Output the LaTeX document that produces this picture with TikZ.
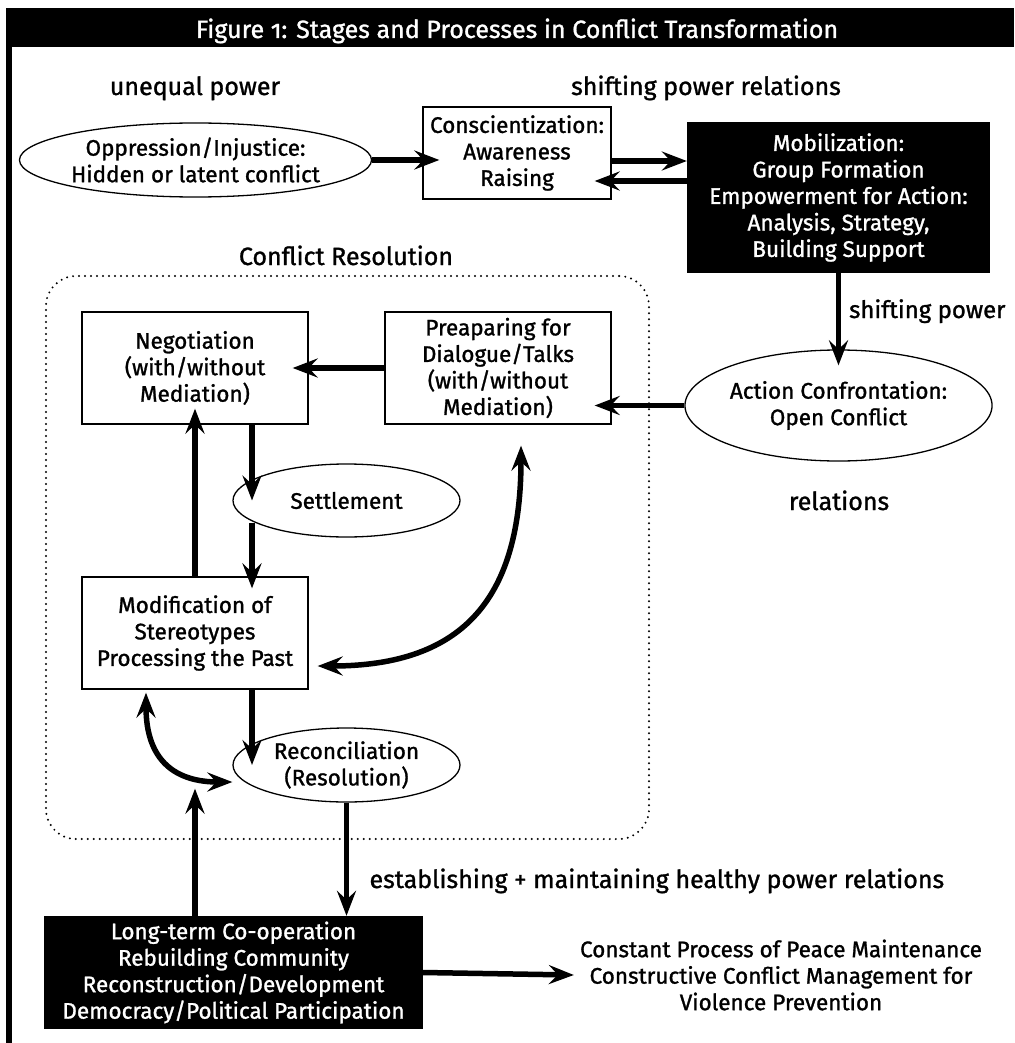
\documentclass[tikz,border=0pt]{standalone}
\usepackage{fontspec}
\setmainfont{Fira Sans}
\newfontfamily\diagfont{Fira Sans}[FakeBold=1.2]
\usetikzlibrary{shapes.geometric,arrows.meta}

\begin{document}
\begin{tikzpicture}[x=1pt,y=-1pt]
        % Define styles
        \tikzset{
            every node/.style={font=\diagfont\fontsize{22.5}{26.5}\selectfont, align=center},
            label/.style={font=\diagfont\fontsize{25}{30}\selectfont},
            oval/.style={ellipse, draw, line width=1.3pt, fill=white, inner sep=0pt},
            box/.style={rectangle, draw, line width=1.3pt, fill=white, inner sep=0pt},
            darkbox/.style={rectangle, fill=black, text=white, inner sep=0pt},
            arrow/.style={-{Stealth[length=25pt,width=19pt,inset=9pt]}, line width=5.5pt},
            twoway/.style={{Stealth[length=25pt,width=19pt,inset=9pt]}-{Stealth[length=25pt,width=19pt,inset=9pt]}, line width=5.5pt},
            dots/.style={draw, line width=2.2pt, line cap=round, dash pattern=on 0pt off 6pt, rounded corners=30pt}
        }
        \useasboundingbox (0,0) rectangle (1014,1043);

        % Frame
        \fill[black] (6,8) rectangle (1014,47);
        \draw[line width=5.5pt] (9,47) -- (9,1043);
        \node[label, text=white, anchor=base] (title_node) at (517,38) {Figure {\addfontfeature{Numbers=OldStyle}1}: Stages and Processes in Conflict Transformation};

        % Nodes
        \node[label, anchor=base] (unequal_label) at (195,95) {unequal power};
        \node[label, anchor=base] (shifting_label) at (706,95) {shifting power relations};
        \node[label, anchor=base] (resolution_label) at (346,265) {Conflict Resolution};
        \node[dots, minimum width=603pt, minimum height=563pt] (resolution_frame) at (347.5,557.5) {};

        \node[oval, minimum width=303pt, minimum height=74pt] (oppression_node) at (195.5,160) {Oppression/Injustice:\\Hidden or latent conflict};
        \node[box, minimum width=188pt, minimum height=92pt] (conscient_node) at (517,153) {Conscientization:\\Awareness\\Raising};
        \node[darkbox, minimum width=303pt, minimum height=151pt] (mobilization_node) at (838.5,197.5) {Mobilization:\\Group Formation\\Empowerment for Action:\\Analysis, Strategy,\\Building Support};
        \node[label, anchor=base west, inner sep=0pt, font=\diagfont\fontsize{24}{30}\selectfont] (shifting_power_label) at (849,318) {shifting power};
        \node[oval, minimum width=301pt, minimum height=111pt] (action_node) at (838.5,405.5) {Action Confrontation:\\Open Conflict};
        \node[label, anchor=base] (relations_label) at (839,510) {relations};

        \node[box, minimum width=226pt, minimum height=112pt] (negotiation_node) at (195,368) {Negotiation\\(with/without\\Mediation)};
        \node[box, minimum width=226pt, minimum height=112pt] (preparing_node) at (498,368) {Preaparing for\\Dialogue/Talks\\(with/without\\Mediation)};
        \node[oval, minimum width=227pt, minimum height=73pt] (settlement_node) at (346.5,500.5) {Settlement};
        \node[box, minimum width=226pt, minimum height=112pt] (modification_node) at (195,633) {Modification of\\Stereotypes\\Processing the Past};
        \node[oval, minimum width=227pt, minimum height=74pt] (reconciliation_node) at (346.5,765) {Reconciliation\\(Resolution)};

        \node[label, anchor=base west] (healthy_label) at (366,888) {establishing + maintaining healthy power relations};
        \node[darkbox, minimum width=379pt, minimum height=113pt] (longterm_node) at (233.5,972.5) {Long-term Co-operation\\Rebuilding Community\\Reconstruction/Development\\Democracy/Political Participation};
        \node[inner sep=6pt] (constant_node) at (781,975) {Constant Process of Peace Maintenance\\Constructive Conflict Management for\\Violence Prevention};

        % Arrows
        \draw[arrow, shorten >=-17pt] (oppression_node.east) -- (oppression_node.east -| conscient_node.west);
        \draw[arrow] ([yshift=-8pt]conscient_node.east) -- ([yshift=-8pt]conscient_node.east -| mobilization_node.west);
        \draw[arrow, shorten >=-17pt] ([yshift=-28pt]conscient_node.east -| mobilization_node.west) -- ([yshift=-28pt]conscient_node.east);
        \draw[arrow, shorten >=-16pt] (mobilization_node.south) -- (action_node.north);
        \draw[arrow, shorten >=-17pt] (action_node.west) -- (action_node.west -| preparing_node.east);
        \draw[arrow, shorten >=-16pt] (preparing_node.west) -- (negotiation_node.east);
        \draw[arrow] ([xshift=57pt]negotiation_node.south) -- ([xshift=57pt]negotiation_node.south |- settlement_node.center);
        \draw[arrow, shorten >=-12pt] ([xshift=57pt,yshift=-22pt]modification_node.north |- settlement_node.center) -- ([xshift=57pt]modification_node.north);
        \draw[arrow, shorten >=-16pt] (modification_node.north) -- (negotiation_node.south);
        \draw[twoway] ([xshift=9pt,yshift=-33pt]modification_node.east) .. controls +(148,0) and +(0,150) .. ([xshift=23pt,yshift=-21pt]preparing_node.south);
        \draw[arrow] ([xshift=57pt]modification_node.south) -- ([xshift=57pt]modification_node.south |- reconciliation_node.center);
        \draw[twoway] ([xshift=-49pt,yshift=-3pt]modification_node.south) .. controls +(0,70) and +(-55,0) .. ([yshift=-17pt]reconciliation_node.west);
        \draw[arrow] (modification_node.south |- longterm_node.north) -- ([yshift=14pt]modification_node.south |- reconciliation_node.south);
        \draw[arrow] (reconciliation_node.south) -- (reconciliation_node.south |- longterm_node.north);
        \draw[arrow] (longterm_node.east) -- (constant_node.west);
\end{tikzpicture}
\end{document}
